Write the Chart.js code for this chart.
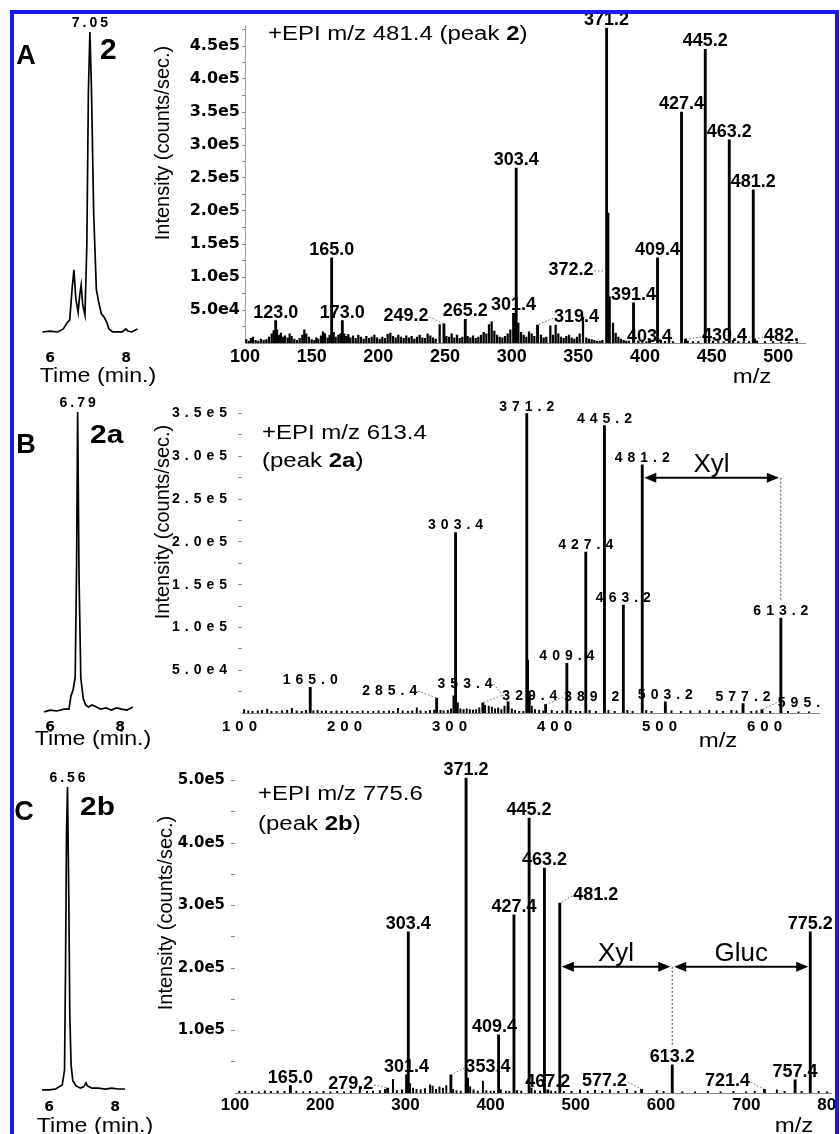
<!DOCTYPE html>
<html><head><meta charset="utf-8">
<script src="https://cdn.jsdelivr.net/npm/chart.js@4.4.1/dist/chart.umd.min.js"></script>
<style>
html,body{margin:0;padding:0;background:#fff;}
#page{position:relative;width:840px;height:1134px;overflow:hidden;background:#fff;}
#stage{position:absolute;left:0;top:0;width:840px;height:1134px;clip-path:inset(14px 5px 0 14px);}
canvas{position:absolute;}
.t{position:absolute;white-space:nowrap;line-height:1;font-family:"Liberation Sans",Arial,sans-serif;color:#000;}
#frame{position:absolute;left:10px;top:10px;width:821px;height:1200px;border:4px solid #1a1aee;}
</style></head><body>
<div id="page"><div id="stage">
<canvas id="chromA"></canvas><canvas id="specA"></canvas>
<canvas id="chromB"></canvas><canvas id="specB"></canvas>
<canvas id="chromC"></canvas><canvas id="specC"></canvas>

<div class="t" style="left:26px;top:55px;font-size:27px;font-weight:bold;transform:translate(-50%,-50%)">A</div>
<div class="t" style="left:100px;top:49px;font-size:30px;font-weight:bold;transform:translateY(-50%)">2</div>
<div class="t" style="left:26px;top:444px;font-size:27px;font-weight:bold;transform:translate(-50%,-50%)">B</div>
<div class="t" style="left:90px;top:434px;font-size:26px;font-weight:bold;transform:translateY(-50%) scaleX(1.15);transform-origin:0 50%">2a</div>
<div class="t" style="left:24px;top:811px;font-size:27px;font-weight:bold;transform:translate(-50%,-50%)">C</div>
<div class="t" style="left:80px;top:806px;font-size:26px;font-weight:bold;transform:translateY(-50%) scaleX(1.15);transform-origin:0 50%">2b</div>

<div class="t" style="left:98px;top:375px;font-size:20px;transform:translate(-50%,-50%) scaleX(1.16)">Time (min.)</div>
<div class="t" style="left:93px;top:738px;font-size:20px;transform:translate(-50%,-50%) scaleX(1.16)">Time (min.)</div>
<div class="t" style="left:95px;top:1125px;font-size:20px;transform:translate(-50%,-50%) scaleX(1.16)">Time (min.)</div>

<div class="t" style="left:268px;top:33px;font-size:20px;transform:translateY(-50%) scaleX(1.2);transform-origin:0 50%">+EPI m/z 481.4 (peak <b>2</b>)</div>
<div class="t" style="left:262px;top:432px;font-size:20px;transform:translateY(-50%) scaleX(1.2);transform-origin:0 50%">+EPI m/z 613.4</div>
<div class="t" style="left:262px;top:460px;font-size:20px;transform:translateY(-50%) scaleX(1.2);transform-origin:0 50%">(peak <b>2a</b>)</div>
<div class="t" style="left:258px;top:793px;font-size:20px;transform:translateY(-50%) scaleX(1.2);transform-origin:0 50%">+EPI m/z 775.6</div>
<div class="t" style="left:258px;top:823px;font-size:20px;transform:translateY(-50%) scaleX(1.2);transform-origin:0 50%">(peak <b>2b</b>)</div>

<div class="t" style="left:162px;top:143px;font-size:20px;transform:translate(-50%,-50%) rotate(-90deg)">Intensity (counts/sec.)</div>
<div class="t" style="left:162px;top:522px;font-size:20px;transform:translate(-50%,-50%) rotate(-90deg)">Intensity (counts/sec.)</div>
<div class="t" style="left:165px;top:913px;font-size:20px;transform:translate(-50%,-50%) rotate(-90deg)">Intensity (counts/sec.)</div>

<div class="t" style="left:752px;top:376px;font-size:20px;transform:translate(-50%,-50%) scaleX(1.2)">m/z</div>
<div class="t" style="left:718px;top:740px;font-size:20px;transform:translate(-50%,-50%) scaleX(1.2)">m/z</div>
<div class="t" style="left:794px;top:1125px;font-size:20px;transform:translate(-50%,-50%) scaleX(1.2)">m/z</div>
</div><div id="frame"></div></div>

<script>
// ---------------- DATA ----------------
// Chromatograms (time in min, relative intensity %)
const chromA_t = [5.8,6.0,6.2,6.35,6.45,6.52,6.58,6.63,6.68,6.74,6.78,6.82,6.86,6.92,6.97,7.01,7.05,7.09,7.15,7.22,7.28,7.35,7.42,7.5,7.55,7.65,7.8,7.9,8.0,8.05,8.15,8.3];
const chromA_i = [1,1.3,1,2,4,5,15,21.5,12,7.5,13,16.5,10,6.6,30,80,100,82,40,15,11,7,6,4,2,1,1,1,2,1.3,1,2];
const chromA_peak = [7.05], chromA_peakLabel = ['7.05'];

const chromB_t = [5.83,6.0,6.2,6.4,6.54,6.6,6.66,6.72,6.76,6.79,6.83,6.88,6.95,7.02,7.1,7.2,7.3,7.45,7.6,7.75,7.9,8.05,8.2,8.37];
const chromB_i = [0.7,1.3,1,1.6,1.6,6,8,12,50,100,45,12,5,3,2.3,3,2.5,1.6,2,1.3,2,1.6,1.3,2.3];
const chromB_peak = [6.79], chromB_peakLabel = ['6.79'];

const chromC_t = [5.79,6.0,6.2,6.4,6.47,6.5,6.53,6.56,6.6,6.63,6.67,6.72,6.82,6.95,7.05,7.12,7.16,7.3,7.5,7.7,7.9,8.1,8.3];
const chromC_i = [1,1,1.3,2.6,7.5,40,85,100,63,25,9,4,2.3,1.6,2,3.3,2.3,1.6,1.6,1.3,1.6,1.3,1.3];
const chromC_peak = [6.56], chromC_peakLabel = ['6.56'];
const chromTicks = [6,8];

// Spectrum A: labelled peaks
const specA_mz  = [123.0,165.0,173.0,249.2,265.2,301.4,303.4,319.4,371.2,372.2,391.4,403.4,409.4,427.4,430.4,445.2,463.2,481.2,482.2];
const specA_int = [34000,129000,34000,29000,36000,45000,265000,27000,477000,197000,61000,6000,129000,350000,6000,445000,308000,232000,6000];
const specA_txt = ["123.0","165.0","173.0","249.2","265.2","301.4","303.4","319.4","371.2","372.2","391.4","403.4","409.4","427.4","430.4","445.2","463.2","481.2","482."];
// Spectrum A: unlabelled small peaks
const specA_noiseMz = [101,103,104.5,106,108,110,112,114,116,118,
 120,121.5,124,125.5,127,128.5,130,132,133.5,135,
 137,139,141,143,144.5,146,148,150,152,153.5,
 155,157,158.5,160,162,163.5,166.5,168,170,171.5,
 174.5,176,177.5,179,181,183,185,187,189,191,
 193,195,197,199,201,203,205,207,209,211,
 213,215,217,219,221,223,225,227,229,231,
 233,235,237,239,241,243,246,251,253,255,
 257,259,261,263,267,269,271,273,275,277,
 279,281,283,285,287,289,291,293,295,297,
 299,305,307,309,311,313,315,317,322,324,
 326,329,331,333,335,337,339,341,343,345,
 347,349,351,353.5,356,358,360,362,364,366,
 368,373.5,376,378,380,382,384,386,388,395,
 398,401,412,415,418,421,432,436,440,448,
 451,455,459,466,470,474,478,484,490,496,
 502,508,514];
const specA_noiseInt = [5000,3000,7000,9000,4000,3000,6000,4000,5000,9000,
 14000,19000,20000,12000,15000,9000,11000,8000,14000,10000,
 6000,4000,7000,12000,20000,14000,9000,5000,4000,8000,
 6000,11000,17000,14000,8000,12000,16000,9000,12000,14000,
 14000,10000,13000,8000,11000,7000,12000,9000,6000,10000,
 7000,9000,12000,8000,6000,9000,7000,13000,15000,10000,
 8000,12000,9000,7000,11000,8000,10000,6000,9000,12000,
 8000,7000,14000,11000,8000,6000,28000,10000,9000,14000,
 8000,12000,7000,9000,10000,8000,11000,7000,9000,12000,
 16000,14000,28000,32000,18000,12000,9000,8000,10000,14000,
 20000,30000,16000,12000,9000,17000,14000,10000,12000,8000,
 9000,26000,12000,27000,14000,9000,7000,10000,12000,8000,
 6000,9000,14000,39000,8000,6000,5000,4000,3000,3000,
 4000,70000,30000,15000,9000,6000,4000,3000,3000,3000,
 2000,2000,4000,2500,2000,2000,3000,2000,2000,6000,
 3000,2000,2000,4000,2000,2000,2000,3000,2000,2000,
 1500,1500,1500];
const specA_xTicks = [100,150,200,250,300,350,400,450,500];
const specA_yTicks = [50000,100000,150000,200000,250000,300000,350000,400000,450000];
const specA_yMinor = [25000,75000,125000,175000,225000,275000,325000,375000,425000,475000];

// Spectrum B
const specB_mz  = [165.0,285.4,303.4,329.4,353.4,371.2,389.2,409.4,427.4,445.2,463.2,481.2,503.2,577.2,595.2,613.2];
const specB_int = [30000,17500,211000,12000,13000,350000,10000,58000,188000,336000,126000,290000,13000,11000,4000,111000];
const specB_txt = ["165.0","285.4","303.4","329.4","353.4","371.2","389.2","409.4","427.4","445.2","463.2","481.2","503.2","577.2","595.","613.2"];
const specB_noiseMz = [102,106,110,115,119,124,128,133,138,143,
 147.5,152,157,161,168,172,176,180,185,190,
 195,200,205,210,215,220,225,230,235,240,
 244,248.5,253,258,262,266.5,270,275,279,283,
 289,292,296,299,301.4,305.5,308,311,314,317,
 320,323,326,331.5,335,338,341,344,347,350,
 357,360,364,368,372.4,374,376,379,383,387,
 395,400,405,413,418,422,431,437,449,455,
 467,472,485,490,509,518,527,536,545,552,
 558,566,571,585,590,603,620,630,640];
const specB_noiseInt = [4000,2500,2000,2500,3000,4500,2000,2000,2500,3000,
 5500,2500,2000,3000,2500,3000,2000,2500,2000,2500,
 2000,2500,2000,2000,2500,2000,2000,2500,2000,2500,
 2000,5500,2500,2000,2500,6000,2500,2000,3000,3500,
 3000,2500,3000,5000,20000,12000,5000,4000,5000,4000,
 3500,4000,6000,9000,8000,7000,5000,6000,4000,8000,
 5000,3000,2000,2000,62000,20000,8000,4000,3000,2500,
 3000,2000,2500,3000,2000,2000,3000,2000,3000,2000,
 3000,2000,3000,2000,2500,2000,2500,2500,3000,2500,
 2000,3000,2500,2000,2500,2000,2000,1500,1500];
const specB_xTicks = [100,200,300,400,500,600];
const specB_yTicks = [50000,100000,150000,200000,250000,300000,350000];
const specB_yMinor = [25000,75000,125000,175000,225000,275000,325000];
const specB_arrowFrom = [481.2], specB_arrowTo = [613.2], specB_arrowAt = [275000], specB_arrowText = ['Xyl'];
const specB_dropMz = [613.2], specB_dropFrom = [275000], specB_dropTo = [111000];

// Spectrum C
const specC_mz  = [165.0,279.2,301.4,303.4,353.4,371.2,409.4,427.4,445.2,463.2,467.2,481.2,577.2,613.2,721.4,757.4,775.2];
const specC_int = [12000,8000,29000,258000,29000,504000,93000,285000,440000,360000,5000,304000,6000,45000,6000,21000,258000];
const specC_txt = ["165.0","279.2","301.4","303.4","353.4","371.2","409.4","427.4","445.2","463.2","467.2","481.2","577.2","613.2","721.4","757.4","775.2"];
const specC_noiseMz = [105,112,120,128,135,142,150,158,172,180,
 188,196,204,212,220,228,236,246.5,255,262,
 270,276,285.4,290,296,305.5,309,313,318,323,
 329,332,336,340,344,348,356,360,365,373.5,
 376,380,385,391,395,400,404,412,418,422,
 431,436,448,452,458,471,476,486,495,505,
 514,522.5,531,540,550,560,570,595,603,625,
 640,655,670,685,700,710,736,745,765,785,795];
const specC_noiseInt = [3000,2500,3000,2000,3500,2500,3000,2500,3000,2000,
 2500,2000,2500,2000,2500,2000,3000,10000,2500,3000,
 4000,6000,22000,4000,5000,15000,8000,6000,5000,7000,
 13000,11000,6000,10000,8000,12000,6000,4000,3000,24000,
 10000,5000,3000,19000,4000,3000,3000,5000,3000,2500,
 4000,3000,8000,4000,3000,3000,2500,2500,2500,5000,
 3000,4500,2500,5000,2500,6000,3000,4000,2500,2000,
 2000,2500,2000,2500,2000,2500,5000,2500,2500,2500,2000];
const specC_xTicks = [100,200,300,400,500,600,700,800];
const specC_yTicks = [100000,200000,300000,400000,500000];
const specC_yMinor = [50000,150000,250000,350000,450000];
const specC_arrowFrom = [481.2,613.2], specC_arrowTo = [613.2,775.2], specC_arrowAt = [202000,202000], specC_arrowText = ['Xyl','Gluc'];
const specC_dropMz = [613.2], specC_dropFrom = [202000], specC_dropTo = [45000];

// ---------------- PLUGINS ----------------
const LIB = '"Liberation Sans", Arial, sans-serif';
const DJV = '"DejaVu Sans", sans-serif';

const spacingPlugin = {
  id:'spacing',
  beforeDraw(chart,a,o){ chart.ctx.letterSpacing = (o && o.value) || '0px'; },
  afterDraw(chart){ chart.ctx.letterSpacing = '0px'; }
};

const peakLabelPlugin = {
  id:'peakLabels',
  afterDatasetsDraw(chart, args, o){
    if(!o || !o.mz || !o.mz.length) return;
    const ctx = chart.ctx, xs = chart.scales.x, ys = chart.scales.y;
    ctx.save();
    ctx.font = o.font; ctx.fillStyle = '#000'; ctx.textAlign = 'center'; ctx.textBaseline = 'alphabetic';
    ctx.letterSpacing = o.spacing || '0px';
    const sp = parseFloat(o.spacing || '0');
    o.mz.forEach((m,i)=>{
      const txt = o.text[i];
      const nd = (o.nudge && o.nudge[txt]) || [0,0];
      const px = xs.getPixelForValue(m), py = ys.getPixelForValue(o.ints[i]);
      const lx = px + nd[0] + sp/2, ly = py - o.gap + nd[1];
      ctx.fillText(txt, lx, ly);
      if(nd[0] !== 0 && Math.abs(nd[0]) > 10){
        const w = ctx.measureText(txt).width - sp;
        const cx = lx - sp/2;
        const ex = nd[0] < 0 ? cx + w/2 + 1 : cx - w/2 - 1;
        ctx.save(); ctx.setLineDash([1.5,2]); ctx.strokeStyle = '#666'; ctx.lineWidth = 1;
        ctx.beginPath(); ctx.moveTo(ex, ly - 4); ctx.lineTo(px, Math.max(py, ly - 4)); ctx.stroke(); ctx.restore();
      }
    });
    ctx.restore();
  }
};

const arrowPlugin = {
  id:'arrows',
  afterDatasetsDraw(chart, args, o){
    if(!o || !o.from) return;
    const ctx = chart.ctx, xs = chart.scales.x, ys = chart.scales.y;
    ctx.save();
    ctx.letterSpacing = '0px';
    (o.dropMz || []).forEach((m,i)=>{
      const x = xs.getPixelForValue(m);
      ctx.setLineDash([2,2]); ctx.strokeStyle = '#444'; ctx.lineWidth = 1;
      ctx.beginPath(); ctx.moveTo(x, ys.getPixelForValue(o.dropFrom[i])); ctx.lineTo(x, ys.getPixelForValue(o.dropTo[i]) - 18); ctx.stroke();
    });
    ctx.setLineDash([]);
    o.from.forEach((f,i)=>{
      const x1 = xs.getPixelForValue(f) + 2, x2 = xs.getPixelForValue(o.to[i]) - 2, y = ys.getPixelForValue(o.at[i]);
      ctx.strokeStyle = '#000'; ctx.fillStyle = '#000'; ctx.lineWidth = 2;
      ctx.beginPath(); ctx.moveTo(x1 + 8, y); ctx.lineTo(x2 - 8, y); ctx.stroke();
      ctx.beginPath(); ctx.moveTo(x1, y); ctx.lineTo(x1 + 12, y - 5); ctx.lineTo(x1 + 12, y + 5); ctx.closePath(); ctx.fill();
      ctx.beginPath(); ctx.moveTo(x2, y); ctx.lineTo(x2 - 12, y - 5); ctx.lineTo(x2 - 12, y + 5); ctx.closePath(); ctx.fill();
      ctx.font = '26px ' + LIB; ctx.textAlign = 'center'; ctx.textBaseline = 'alphabetic';
      ctx.fillText(o.text[i], (x1 + x2)/2, y - 6);
    });
    ctx.restore();
  }
};

// ---------------- BUILDERS ----------------
function place(id, left, top, w, h){
  const el = document.getElementById(id);
  el.width = w; el.height = h; el.style.left = left + 'px'; el.style.top = top + 'px';
  el.style.width = w + 'px'; el.style.height = h + 'px';
  return el;
}

function chromatogram(id, c){
  const el = place(id, c.left, c.top, c.w, c.h);
  new Chart(el, {
    type:'line',
    data:{datasets:[{data:c.t.map((x,i)=>({x:x, y:c.i[i]})), borderColor:'#000', borderWidth:1.7, pointRadius:0, tension:0, fill:false, clip:8}]},
    options:{
      responsive:false, animation:false, devicePixelRatio:1, events:[],
      layout:{padding:{left:c.padL, right:c.padR, top:c.padT, bottom:0}},
      plugins:{legend:{display:false}, tooltip:{enabled:false},
        peakLabels:{mz:c.peak, ints:[100], text:c.label, font:'bold 14px ' + LIB, spacing:'3px', gap:5}},
      scales:{
        x:{type:'linear', min:c.min, max:c.max, offset:false,
           afterBuildTicks:s=>{ s.ticks = chromTicks.map(v=>({value:v})); },
           afterFit:s=>{ s.height = c.xH; },
           grid:{display:false, drawTicks:false}, border:{display:false},
           ticks:{font:{family:DJV, size:14, weight:'bold'}, color:'#000', padding:c.xPad, maxRotation:0, autoSkip:false}},
        y:{display:false, min:0, max:100}
      }
    },
    plugins:[peakLabelPlugin]
  });
}

function spectrum(id, c){
  const el = place(id, c.left, c.top, c.w, c.h);
  const fmt = v => v.toExponential(1).replace('e+','e');
  const yAll = c.yTicks.concat(c.yMinor).sort((a,b)=>a-b);
  new Chart(el, {
    type:'bar',
    data:{datasets:[
      {data:c.noiseMz.map((m,i)=>({x:m, y:c.noiseInt[i]})), backgroundColor:'#000', barThickness:c.noiseW, grouped:false},
      {data:c.mz.map((m,i)=>({x:m, y:c.ints[i]})), backgroundColor:'#000', barThickness:2.2, grouped:false}
    ]},
    options:{
      responsive:false, animation:false, devicePixelRatio:1, events:[],
      layout:{padding:{left:0, top:c.padTop, right:c.padRight, bottom:0}},
      plugins:{legend:{display:false}, tooltip:{enabled:false},
        spacing:{value:c.tickSpacing || '0px'},
        peakLabels:{mz:c.mz, ints:c.ints, text:c.text, nudge:c.nudge, font:c.labelFont, spacing:c.spacing || '0px', gap:3},
        arrows:c.arrows || {}},
      scales:{
        x:{type:'linear', min:c.xMin, max:c.xMax, offset:false,
           afterBuildTicks:s=>{ s.ticks = c.xTicks.map(v=>({value:v})); },
           afterFit:s=>{ s.height = c.xH; },
           grid:{display:false, drawTicks:false},
           border:{display:true, color:'#8a8a8a', dash:[3,3], width:1},
           ticks:{font:c.xFont, color:'#000', padding:c.xPad, maxRotation:0, autoSkip:false}},
        y:{type:'linear', min:0, max:c.yMax,
           afterBuildTicks:s=>{ s.ticks = yAll.map(v=>({value:v})); },
           afterFit:s=>{ s.width = c.yW; },
           grid:{drawOnChartArea:false, drawTicks:true, tickLength:c.tickLen, color:'#888'},
           border:{display:c.yBorder, color:'#999', width:1},
           ticks:{font:c.yFont, color:'#000', padding:c.yPad, autoSkip:false,
                  callback:v => c.yTicks.includes(v) ? fmt(v) : ''}}
      }
    },
    plugins:[spacingPlugin, peakLabelPlugin, arrowPlugin]
  });
}

// ---------------- CHARTS ----------------
chromatogram('chromA', {left:0, top:0, w:160, h:390, padL:42.4, padR:22.6, padT:32, xH:55, xPad:15, min:5.8, max:8.3,
  t:chromA_t, i:chromA_i, peak:chromA_peak, label:chromA_peakLabel});
chromatogram('chromB', {left:0, top:380, w:160, h:380, padL:44.05, padR:27.05, padT:32, xH:46, xPad:5, min:5.83, max:8.37,
  t:chromB_t, i:chromB_i, peak:chromB_peak, label:chromB_peakLabel});
chromatogram('chromC', {left:0, top:750, w:160, h:384, padL:42.07, padR:35.03, padT:37, xH:41, xPad:6, min:5.79, max:8.3,
  t:chromC_t, i:chromC_i, peak:chromC_peak, label:chromC_peakLabel});

spectrum('specA', {left:140, top:0, w:700, h:390, padTop:26.2, padRight:35, xH:47, yW:105,
  xMin:100, xMax:520, yMax:480000, xTicks:specA_xTicks, yTicks:specA_yTicks, yMinor:specA_yMinor,
  tickLen:3, yBorder:true, yPad:2, noiseW:1.6,
  yFont:{family:DJV, size:16, weight:'bold'}, xFont:{family:LIB, size:18, weight:'bold'}, xPad:3,
  labelFont:'bold 18px ' + LIB,
  mz:specA_mz, ints:specA_int, text:specA_txt, noiseMz:specA_noiseMz, noiseInt:specA_noiseInt,
  nudge:{"249.2":[-38,0], "319.4":[39,0], "372.2":[-37,65], "430.4":[39,5], "482.":[27,5], "403.4":[0,6]}});

spectrum('specB', {left:140, top:380, w:700, h:380, padTop:25, padRight:20.5, xH:47, yW:102,
  xMin:100, xMax:650, yMax:360000, xTicks:specB_xTicks, yTicks:specB_yTicks, yMinor:specB_yMinor,
  tickLen:4, yBorder:false, yPad:6, tickSpacing:'5px', noiseW:1.3,
  yFont:{family:LIB, size:14, weight:'bold'}, xFont:{family:LIB, size:15, weight:'bold'}, xPad:5,
  labelFont:'bold 14px ' + LIB, spacing:'5px',
  mz:specB_mz, ints:specB_int, text:specB_txt, noiseMz:specB_noiseMz, noiseInt:specB_noiseInt,
  nudge:{"285.4":[-47,0], "329.4":[47,0], "353.4":[-43,-11], "389.2":[46,0], "595.":[37,0]},
  arrows:{from:specB_arrowFrom, to:specB_arrowTo, at:specB_arrowAt, text:specB_arrowText,
          dropMz:specB_dropMz, dropFrom:specB_dropFrom, dropTo:specB_dropTo}});

spectrum('specC', {left:140, top:750, w:720, h:384, padTop:24.25, padRight:28.6, xH:41, yW:95,
  xMin:100, xMax:800, yMax:510000, xTicks:specC_xTicks, yTicks:specC_yTicks, yMinor:specC_yMinor,
  tickLen:4, yBorder:false, yPad:6, noiseW:1.3,
  yFont:{family:DJV, size:15, weight:'bold'}, xFont:{family:LIB, size:17, weight:'bold'}, xPad:2,
  labelFont:'bold 18px ' + LIB,
  mz:specC_mz, ints:specC_int, text:specC_txt, noiseMz:specC_noiseMz, noiseInt:specC_noiseInt,
  nudge:{"279.2":[-37,4], "353.4":[37,0], "481.2":[36,0], "577.2":[-37,0], "721.4":[-37,0], "409.4":[-4,0]},
  arrows:{from:specC_arrowFrom, to:specC_arrowTo, at:specC_arrowAt, text:specC_arrowText,
          dropMz:specC_dropMz, dropFrom:specC_dropFrom, dropTo:specC_dropTo}});
</script>
</body></html>
